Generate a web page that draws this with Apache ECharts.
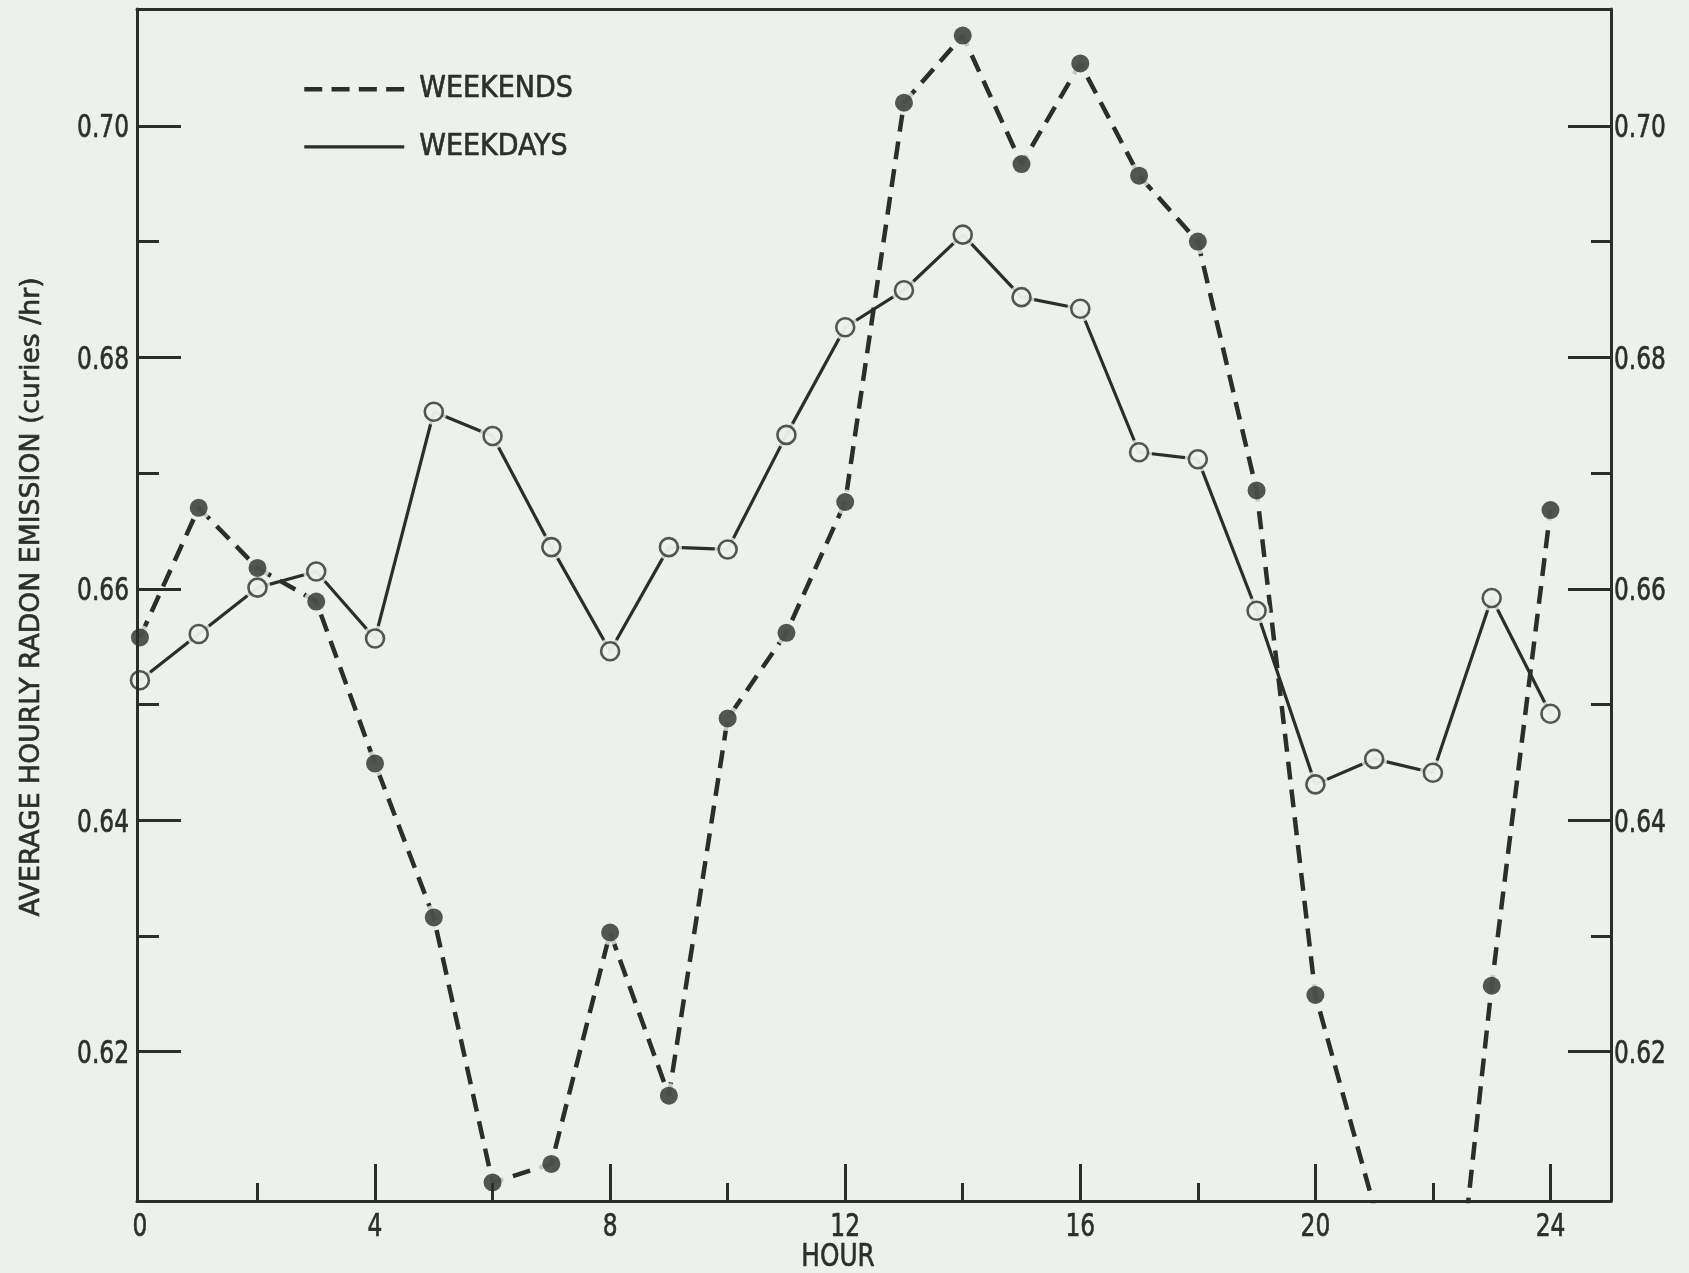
<!DOCTYPE html>
<html>
<head>
<meta charset="utf-8">
<title>Average hourly radon emission</title>
<script src="https://cdn.jsdelivr.net/npm/echarts@6/dist/echarts.min.js"></script>
<style>
  html, body { margin: 0; padding: 0; background: #eef0ed; }
  #chart { width: 1689px; height: 1273px; }
</style>
</head>
<body>
<div id="chart"></div>
<script>
// Hour of day (0-24) and the average hourly radon emission (curies/hr)
const hours = [0, 1, 2, 3, 4, 5, 6, 7, 8, 9, 10, 11, 12, 13, 14, 15, 16, 17, 18, 19, 20, 21, 22, 23, 24];
const weekdays = [0.6521, 0.6561, 0.6601, 0.6615, 0.6557, 0.6753, 0.6732, 0.6636, 0.6546, 0.6636, 0.6634, 0.6733, 0.6826,
                  0.6858, 0.6906, 0.6852, 0.6842, 0.6718, 0.6712, 0.6581, 0.6431, 0.6453, 0.6441, 0.6592, 0.6492];
const weekends = [0.6558, 0.6670, 0.6618, 0.6589, 0.6449, 0.6316, 0.6087, 0.6103, 0.6303, 0.6162, 0.6488, 0.6562, 0.6675,
                  0.7020, 0.7078, 0.6967, 0.7054, 0.6957, 0.6900, 0.6685, 0.6249, 0.6066, 0.5790, 0.6257, 0.6668];

// Axis ticks and labels
const hourLabels = [0, 4, 8, 12, 16, 20, 24];
const hourMajorTicks = [4, 8, 12, 16, 20, 24];
const hourMinorTicks = [2, 6, 10, 14, 18, 22];
const emissionLabels = [0.62, 0.64, 0.66, 0.68, 0.70];
const emissionMinorTicks = [0.63, 0.65, 0.67, 0.69];

const INK = '#2c2e2c';
const PAPER = '#eef0ed';
const FONT = "'DejaVu Sans Condensed', 'Liberation Sans Narrow', 'Liberation Sans', sans-serif";

const X_MIN = -0.05, X_MAX = 25.03;
const Y_MIN = 0.6071, Y_MAX = 0.7101;

const pairs = vals => hours.map((h, i) => [h, vals[i]]);

function axisDef(range, extra) {
  return Object.assign({
    type: 'value', min: range[0], max: range[1], z: 10,
    splitLine: { show: false },
    axisLine: { show: false, onZero: false },
    axisTick: { show: false },
    axisLabel: { show: false }
  }, extra);
}
const xRange = [X_MIN, X_MAX], yRange = [Y_MIN, Y_MAX];
const frameLine = { show: true, onZero: false, lineStyle: { color: INK, width: 3 } };
const tick = (values, length) => ({ show: true, inside: true, length, customValues: values, lineStyle: { color: INK, width: 3 } });

const option = {
  backgroundColor: PAPER,
  animation: false,
  grid: { left: 137, right: 78, top: 9, bottom: 72, containLabel: false },
  legend: {
    data: [
      { name: 'WEEKENDS', itemStyle: { opacity: 0 }, lineStyle: { type: [18, 9.3], width: 4.5 } },
      { name: 'WEEKDAYS', itemStyle: { opacity: 0 }, lineStyle: { width: 3.4 } }
    ],
    orient: 'vertical',
    left: 302, top: 74,
    padding: 0,
    itemWidth: 100, itemHeight: 30, itemGap: 27,
    textStyle: { color: INK, fontFamily: FONT, fontSize: 30, lineHeight: 30, padding: [0, 0, 0, 10],
                 textBorderColor: INK, textBorderWidth: 0.6 },
    selectedMode: false
  },
  xAxis: [
    axisDef(xRange, { position: 'bottom', axisLine: frameLine, axisTick: tick(hourMajorTicks, 37) }),
    axisDef(xRange, { position: 'bottom', axisTick: tick(hourMinorTicks, 18) }),
    axisDef(xRange, { position: 'top', axisLine: frameLine })
  ],
  yAxis: [
    axisDef(yRange, { position: 'left', axisLine: frameLine, axisTick: tick(emissionLabels, 44) }),
    axisDef(yRange, { position: 'left', axisTick: tick(emissionMinorTicks, 22) }),
    axisDef(yRange, { position: 'right', axisLine: frameLine, axisTick: tick(emissionLabels, 43) }),
    axisDef(yRange, { position: 'right', axisTick: tick(emissionMinorTicks, 20) })
  ],
  series: [
    {
      name: 'WEEKENDS', type: 'line', data: pairs(weekends), symbol: 'none', clip: true, z: 2,
      lineStyle: { color: INK, width: 4.5, type: [18, 10] }
    },
    {
      name: 'WEEKDAYS', type: 'line', data: pairs(weekdays), symbol: 'none', clip: true, z: 2,
      lineStyle: { color: INK, width: 3.2, type: 'solid' }
    },
    // paper-coloured halos leave a small gap between each line and its markers
    {
      name: 'weekend gaps', type: 'scatter', data: pairs(weekends), symbol: 'circle', symbolSize: 25, clip: true, z: 3,
      itemStyle: { color: PAPER }, silent: true
    },
    {
      name: 'weekday gaps', type: 'scatter', data: pairs(weekdays), symbol: 'circle', symbolSize: 26, clip: true, z: 3,
      itemStyle: { color: PAPER }, silent: true
    },
    {
      name: 'weekend points', type: 'scatter', data: pairs(weekends), symbol: 'circle', symbolSize: 18, clip: true, z: 4,
      itemStyle: { color: INK }
    },
    {
      name: 'weekday points', type: 'scatter', data: pairs(weekdays), symbol: 'circle', symbolSize: 18, clip: true, z: 4,
      itemStyle: { color: PAPER, borderColor: INK, borderWidth: 2.6 }
    }
  ]
};

const chart = echarts.init(document.getElementById('chart'), null, { renderer: 'canvas' });
chart.setOption(option);

// Tick labels and axis titles are set in a condensed face: placed from the axis scales,
// then narrowed horizontally to the typeface proportions of the plot.
const labelFont = '32px ' + FONT;
const labelStyle = (text, align) => ({
  text, fill: INK, font: labelFont, textAlign: align, textVerticalAlign: 'middle',
  stroke: INK, lineWidth: 0.6
});
const frameLeft = chart.convertToPixel({ xAxisIndex: 0 }, X_MIN);
const frameRight = chart.convertToPixel({ xAxisIndex: 0 }, X_MAX);
const frameBottom = chart.convertToPixel({ yAxisIndex: 0 }, Y_MIN);
const frameTop = chart.convertToPixel({ yAxisIndex: 0 }, Y_MAX);

const graphics = [];
emissionLabels.forEach(v => {
  const y = chart.convertToPixel({ yAxisIndex: 0 }, v) + 3;
  graphics.push({ type: 'text', x: frameLeft - 8, y, scaleX: 0.81, z: 10, style: labelStyle(v.toFixed(2), 'right') });
  graphics.push({ type: 'text', x: frameRight + 3, y, scaleX: 0.81, z: 10, style: labelStyle(v.toFixed(2), 'left') });
});
hourLabels.forEach(h => {
  const x = chart.convertToPixel({ xAxisIndex: 0 }, h);
  graphics.push({ type: 'text', x, y: frameBottom + 27, scaleX: 0.81, z: 10, style: labelStyle(String(h), 'center') });
});
graphics.push({
  type: 'text', x: 838, y: frameBottom + 57, scaleX: 0.86, z: 10,
  style: labelStyle('HOUR', 'center')
});
graphics.push({
  type: 'text', x: 32, y: (frameTop + frameBottom) / 2 - 8, rotation: Math.PI / 2, scaleX: 1.1, z: 10,
  style: Object.assign(labelStyle('AVERAGE HOURLY RADON EMISSION (curies /hr)', 'center'), { font: '27px ' + FONT })
});
chart.setOption({ graphic: graphics });
</script>
</body>
</html>
